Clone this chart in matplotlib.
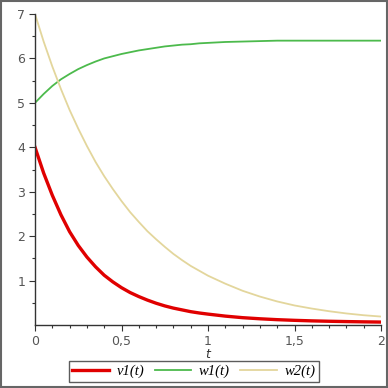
import matplotlib
matplotlib.use("Agg")
import matplotlib.pyplot as plt
import numpy as np

# values (0.05 steps up to t=1, then 0.1 steps)
t = [0.0, 0.05, 0.1, 0.15, 0.2, 0.25, 0.3, 0.35, 0.4, 0.45, 0.5,
     0.55, 0.6, 0.65, 0.7, 0.75, 0.8, 0.85, 0.9, 0.95, 1.0,
     1.1, 1.2, 1.3, 1.4, 1.5, 1.6, 1.7, 1.8, 1.9, 2.0]
v1 = [4.0, 3.42, 2.92, 2.48, 2.1, 1.79, 1.53, 1.31, 1.12, 0.97, 0.84,
      0.73, 0.64, 0.56, 0.49, 0.43, 0.38, 0.34, 0.3, 0.27, 0.245,
      0.2, 0.165, 0.14, 0.12, 0.105, 0.093, 0.084, 0.077, 0.071, 0.066]
w1 = [5.0, 5.2, 5.38, 5.53, 5.65, 5.76, 5.85, 5.93, 6.0, 6.05, 6.1,
      6.14, 6.18, 6.21, 6.24, 6.27, 6.29, 6.31, 6.32, 6.34, 6.35,
      6.37, 6.38, 6.39, 6.4, 6.4, 6.4, 6.4, 6.4, 6.4, 6.4]
w2 = [7.0, 6.38, 5.82, 5.31, 4.84, 4.42, 4.03, 3.67, 3.35, 3.06, 2.79,
      2.54, 2.32, 2.11, 1.93, 1.76, 1.6, 1.46, 1.33, 1.22, 1.11,
      0.93, 0.77, 0.64, 0.53, 0.44, 0.37, 0.31, 0.26, 0.22, 0.19]
names = ["v1(t)", "w1(t)", "w2(t)"]

fig = plt.figure(figsize=(3.88, 3.88), dpi=100)
ax = fig.add_axes([35 / 388, 1 - 325 / 388, 346 / 388, 311 / 388])

ax.plot(t, v1, color="#e00000", lw=2.4, label=names[0])
ax.plot(t, w1, color="#4cba4c", lw=1.3, label=names[1])
ax.plot(t, w2, color="#e3d69c", lw=1.3, label=names[2])

ax.set_xlim(0, 2)
ax.set_ylim(0, 7)
for s in ["top", "right"]:
    ax.spines[s].set_visible(False)
for s in ["left", "bottom"]:
    ax.spines[s].set_color("#333333")
    ax.spines[s].set_linewidth(1.0)

ax.set_xticks([0, 0.5, 1, 1.5, 2])
ax.set_xticklabels(["0", "0,5", "1", "1,5", "2"])
ax.set_xticks(np.arange(0, 2.01, 0.1), minor=True)
ax.set_yticks([1, 2, 3, 4, 5, 6, 7])
ax.set_yticks(np.arange(0.5, 7, 1.0), minor=True)
ax.tick_params(which="both", direction="out", color="#333333", labelcolor="#555555",
               labelsize=9)
ax.tick_params(which="major", length=4, width=0.8, pad=3)
ax.tick_params(which="minor", length=2.5, width=0.8)

ax.set_xlabel("t", fontstyle="italic", fontsize=9, color="#333333", labelpad=0)

# legend centred on the figure, under the axis label
leg = fig.legend(loc="upper center", bbox_to_anchor=(0.5, 1 - 354 / 388), ncol=3,
                 frameon=True, fancybox=False, handlelength=2.5, columnspacing=0.7,
                 handletextpad=0.55, borderpad=0.25,
                 prop={"family": "Liberation Serif", "style": "italic", "size": 10.5})
leg.get_frame().set_edgecolor("#333333")
leg.get_frame().set_linewidth(1.0)

fig.patches.append(plt.Rectangle((0.002, 0.002), 0.996, 0.996, transform=fig.transFigure,
                                 fill=False, edgecolor="#666666", lw=1.5))

fig.savefig("out.png", dpi=100)
